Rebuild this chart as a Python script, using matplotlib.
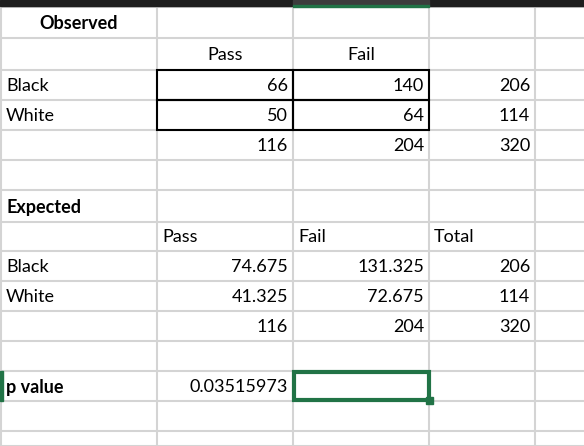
import matplotlib.pyplot as plt
from matplotlib.patches import Rectangle

# spreadsheet geometry (pixels)
col_x = [1, 157, 293, 429, 535, 584]
row_y = [7, 38, 70, 100, 130, 160, 190, 222, 251, 281, 311, 341, 371, 401, 431, 446]

obs_rows = ["Black", "White"]
obs_pass = [66, 50]
obs_fail = [140, 64]
obs_total = [206, 114]
obs_col_totals = [116, 204, 320]

exp_pass = ["74.675", "41.325"]
exp_fail = ["131.325", "72.675"]
exp_total = [206, 114]
exp_col_totals = [116, 204, 320]

p_value = "0.03515973"

fig = plt.figure(figsize=(5.84, 4.46), dpi=100)
ax = fig.add_axes([0, 0, 1, 1])
ax.set_xlim(0, 584)
ax.set_ylim(446, 0)
ax.axis("off")

grid = "#d4d4d4"
for x in col_x[:-1]:
    ax.plot([x, x], [0, 446], color=grid, lw=1.5, zorder=1)
for y in row_y:
    ax.plot([0, 584], [y, y], color=grid, lw=1.5, zorder=1)

# column header bar
ax.add_patch(Rectangle((0, 0), 584, 6, color="#1e1e1e", zorder=3))
ax.add_patch(Rectangle((293, 0), 136, 6, color="#3c3c3c", zorder=3))
ax.add_patch(Rectangle((293, 5), 136, 2, color="#217346", zorder=3))

font = "Lato"
fs = 13


def cell(r, c, s, ha="right", weight="normal"):
    yc = (row_y[r] + row_y[r + 1]) / 2 + 1
    if ha == "right":
        x = col_x[c + 1] - 5
    elif ha == "left":
        x = col_x[c] + 5
    else:
        x = (col_x[c] + col_x[c + 1]) / 2
    ax.text(x, yc, str(s), ha=ha, va="center", fontsize=fs,
            family=font, weight=weight, color="black", zorder=5)


cell(0, 0, "Observed", ha="center", weight="bold")
cell(1, 1, "Pass", ha="center")
cell(1, 2, "Fail", ha="center")
for i, name in enumerate(obs_rows):
    cell(2 + i, 0, name, ha="left")
    cell(2 + i, 1, obs_pass[i])
    cell(2 + i, 2, obs_fail[i])
    cell(2 + i, 3, obs_total[i])
for j, v in enumerate(obs_col_totals):
    cell(4, 1 + j, v)

# black boxes around observed counts
for i in range(2):
    for j in range(2):
        ax.add_patch(Rectangle((col_x[1 + j], row_y[2 + i]),
                               col_x[2 + j] - col_x[1 + j],
                               row_y[3 + i] - row_y[2 + i],
                               fill=False, ec="black", lw=1.5, zorder=4))

cell(6, 0, "Expected", ha="left", weight="bold")
cell(7, 1, "Pass", ha="left")
cell(7, 2, "Fail", ha="left")
cell(7, 3, "Total", ha="left")
for i, name in enumerate(obs_rows):
    cell(8 + i, 0, name, ha="left")
    cell(8 + i, 1, exp_pass[i])
    cell(8 + i, 2, exp_fail[i])
    cell(8 + i, 3, exp_total[i])
for j, v in enumerate(exp_col_totals):
    cell(10, 1 + j, v)

cell(12, 0, "p value", ha="left", weight="bold")
cell(12, 1, p_value)

# selected cell
green = "#217346"
ax.add_patch(Rectangle((col_x[2] + 1, row_y[12] + 1),
                       col_x[3] - col_x[2] - 1, row_y[13] - row_y[12] - 2,
                       fill=False, ec=green, lw=3, zorder=4))
ax.add_patch(Rectangle((col_x[3] - 3, row_y[13] - 4), 7, 7, color=green, zorder=4))
ax.add_patch(Rectangle((0, row_y[12]), 2.5, row_y[13] - row_y[12], color=green, zorder=4))

fig.savefig("out.png", dpi=100)
